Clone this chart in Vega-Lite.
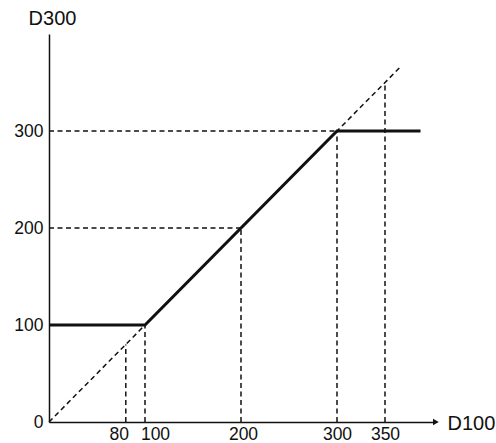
{
  "$schema": "https://vega.github.io/schema/vega-lite/v6.json",
  "width": 384,
  "height": 388,
  "autosize": {"type": "none"},
  "padding": {"left": 49, "top": 34, "right": 63, "bottom": 21},
  "background": "white",
  "config": {
    "view": {"stroke": null},
    "font": "Liberation Sans",
    "axis": {
      "grid": false,
      "ticks": false,
      "tickSize": 0,
      "labelOverlap": false,
      "labelBound": false,
      "labelFlush": false,
      "domainColor": "#111",
      "domainWidth": 1.5,
      "labelFont": "Liberation Sans",
      "labelFontSize": 17.5,
      "labelColor": "#111",
      "titleFont": "Liberation Sans",
      "titleFontSize": 20,
      "titleFontWeight": "normal",
      "titleColor": "#111"
    }
  },
  "datasets": {
    "guides": [
      {"x": 0, "y": 0, "x2": 366, "y2": 366},
      {"x": 0, "y": 300, "x2": 300, "y2": 300},
      {"x": 0, "y": 200, "x2": 200, "y2": 200},
      {"x": 80, "y": 0, "x2": 80, "y2": 80},
      {"x": 100, "y": 0, "x2": 100, "y2": 100},
      {"x": 200, "y": 0, "x2": 200, "y2": 200},
      {"x": 300, "y": 0, "x2": 300, "y2": 300},
      {"x": 350, "y": 0, "x2": 350, "y2": 350}
    ],
    "curve": [
      {"x": 0, "y": 100},
      {"x": 100, "y": 100},
      {"x": 300, "y": 300},
      {"x": 387, "y": 300}
    ],
    "arrow": [{"x": 403, "y": 0}]
  },
  "layer": [
    {
      "data": {"name": "guides"},
      "mark": {"type": "rule", "strokeDash": [5, 3.5], "strokeWidth": 1.5, "color": "#111", "clip": false},
      "encoding": {
        "x": {
          "field": "x", "type": "quantitative",
          "scale": {"domain": [0, 400], "nice": false, "zero": true},
          "axis": {
            "values": [80, 100, 200, 300, 350],
            "labelPadding": 3,
            "labelOffset": {"condition": [{"test": "datum.value == 80", "value": -7}, {"test": "datum.value == 100", "value": 10}, {"test": "datum.value == 200", "value": 2}], "value": 0},
            "title": "D100",
            "titleAlign": "left",
            "titleBaseline": "middle",
            "titleX": 398,
            "titleY": 1,
            "titleAnchor": null
          }
        },
        "y": {
          "field": "y", "type": "quantitative",
          "scale": {"domain": [0, 400], "nice": false, "zero": true},
          "axis": {
            "values": [0, 100, 200, 300],
            "labelPadding": 6,
            "title": "D300",
            "titleAngle": 0,
            "titleAlign": "center",
            "titleBaseline": "middle",
            "titleX": 3,
            "titleY": -16,
            "titleAnchor": null
          }
        },
        "x2": {"field": "x2"},
        "y2": {"field": "y2"}
      }
    },
    {
      "data": {"name": "curve"},
      "mark": {"type": "line", "strokeWidth": 3, "color": "#111", "clip": false},
      "encoding": {
        "x": {"field": "x", "type": "quantitative"},
        "y": {"field": "y", "type": "quantitative"}
      }
    },
    {
      "data": {"name": "arrow"},
      "mark": {"type": "point", "shape": "triangle-right", "filled": true, "size": 45, "color": "#111", "opacity": 1, "clip": false},
      "encoding": {
        "x": {"field": "x", "type": "quantitative"},
        "y": {"field": "y", "type": "quantitative"}
      }
    }
  ]
}
